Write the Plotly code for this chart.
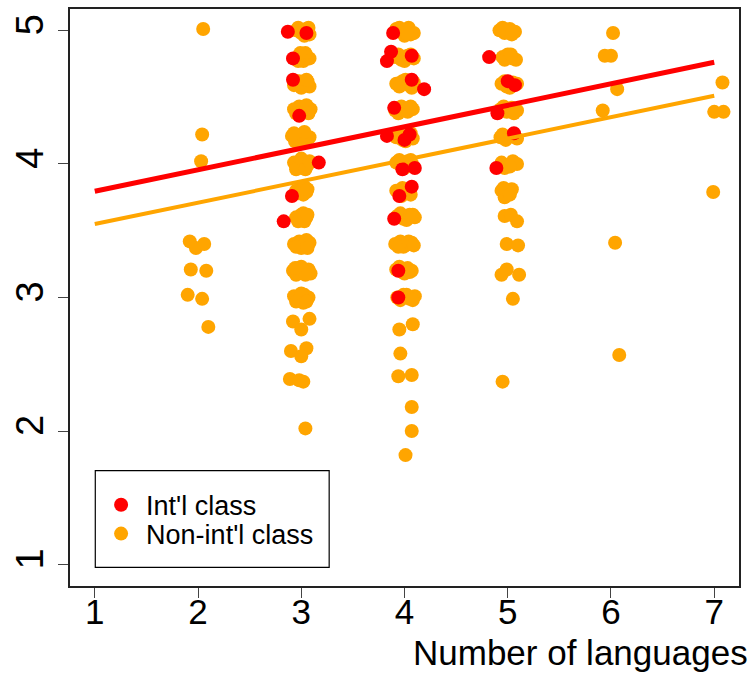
import plotly.graph_objects as go

# ---- data (x/y include the visual jitter) ----
nonintl_x = [
    2.05, 2.04, 2.03, 1.92, 1.98, 2.06, 1.93, 2.08, 1.90, 2.04, 2.10,
    # x = 3
    2.95, 3.00, 3.05, 3.08, 2.97, 3.03, 3.07,
    2.95, 3.00, 3.05, 3.08, 3.02, 2.97, 3.04, 2.99,
    2.93, 2.98, 3.03, 3.08, 3.06, 2.95, 3.00, 3.05,
    2.93, 2.98, 3.03, 3.09, 3.00, 2.95, 3.05, 3.07,
    2.91, 2.96, 3.01, 3.05, 3.08, 2.94, 2.99, 3.03, 2.93,
    2.93, 2.97, 3.02, 3.06, 2.95, 3.00, 3.04, 3.08,
    2.95, 3.00, 3.05, 3.02, 2.97, 3.03, 3.06,
    2.95, 3.00, 3.05, 3.03, 2.97, 3.02, 3.06,
    2.93, 2.98, 3.03, 3.08, 3.00, 2.95, 3.05, 3.06,
    2.92, 2.97, 3.02, 3.07, 3.09, 2.95, 3.00, 3.04, 2.94,
    2.93, 2.98, 3.03, 3.07, 3.02, 2.95, 3.00, 3.05,
    2.92, 3.08, 3.00,
    2.90, 3.05, 3.00,
    2.89, 3.02, 2.98,
    3.04,
    # x = 4
    3.92, 3.98, 4.04, 4.09, 4.00, 3.95, 4.06, 4.02,
    3.91, 3.97, 4.03, 4.09, 3.94, 4.00, 4.06,
    3.92, 3.98, 4.04, 4.09, 3.95, 4.01, 4.07,
    3.91, 3.97, 4.03, 4.08, 3.94, 4.00, 4.06,
    3.92, 3.98, 4.04, 4.08, 3.95, 4.01, 4.06,
    3.92, 3.97, 4.03, 4.08, 3.95, 4.00, 4.06,
    3.92, 3.98, 4.04, 4.06, 3.95, 4.01, 3.97,
    3.93, 3.99, 4.05, 4.10, 3.96, 4.02, 4.08,
    3.91, 3.96, 4.01, 4.07, 3.99, 3.94, 4.04, 4.09,
    3.92, 3.98, 4.03, 4.07, 3.95, 4.00, 4.05,
    3.93, 3.99, 4.05, 4.10, 3.96, 4.02, 4.08,
    3.95, 4.08, 3.96, 3.94, 4.07, 4.07, 4.07, 4.01,
    # x = 5
    4.92, 4.97, 5.02, 5.07, 4.95, 5.04,
    4.95, 5.00, 5.05, 5.08, 4.97, 5.03,
    4.94, 4.99, 5.05, 5.09, 4.97, 5.02,
    4.93, 4.99, 5.04, 5.09, 4.96, 5.06,
    4.93, 4.98, 5.03, 5.09, 4.95, 5.06,
    4.94, 5.00, 5.05, 5.09, 4.97, 5.02,
    4.94, 4.99, 5.04, 4.97, 4.96, 5.02,
    4.97, 5.09, 5.03,
    4.99, 5.10,
    4.94, 4.99, 5.11,
    5.05, 4.95,
    # x = 6, 7
    6.02, 5.94, 6.00, 6.06, 5.92, 6.04, 6.08,
    7.08, 7.00, 7.09, 6.99,
]
nonintl_y = [
    5.01, 4.22, 4.02, 3.42, 3.37, 3.40, 3.21, 3.20, 3.02, 2.99, 2.78,
    # x = 3
    5.00, 4.98, 5.01, 4.97, 5.02, 4.96, 5.02,
    4.79, 4.81, 4.80, 4.79, 4.77, 4.77, 4.83, 4.83,
    4.59, 4.62, 4.60, 4.58, 4.62, 4.62, 4.57, 4.63,
    4.41, 4.43, 4.40, 4.41, 4.38, 4.38, 4.44, 4.38,
    4.21, 4.19, 4.22, 4.18, 4.20, 4.17, 4.16, 4.24, 4.23,
    4.01, 3.98, 4.02, 3.99, 3.96, 4.04, 3.96, 4.02,
    3.80, 3.82, 3.79, 3.77, 3.78, 3.83, 3.81,
    3.60, 3.62, 3.60, 3.57, 3.57, 3.63, 3.62,
    3.40, 3.42, 3.39, 3.41, 3.37, 3.38, 3.43, 3.37,
    3.20, 3.22, 3.19, 3.21, 3.18, 3.17, 3.23, 3.17, 3.22,
    3.01, 2.98, 3.02, 3.00, 2.96, 2.97, 3.03, 2.97,
    2.82, 2.84, 2.76,
    2.60, 2.62, 2.56,
    2.39, 2.37, 2.38,
    2.02,
    # x = 4
    5.01, 4.99, 5.02, 4.98, 4.96, 5.02, 4.97, 4.98,
    4.80, 4.78, 4.81, 4.79, 4.82, 4.77, 4.82,
    4.60, 4.62, 4.59, 4.61, 4.58, 4.63, 4.57,
    4.40, 4.43, 4.39, 4.41, 4.38, 4.41, 4.43,
    4.20, 4.18, 4.21, 4.19, 4.22, 4.17, 4.23,
    4.01, 3.98, 4.02, 3.99, 4.03, 3.97, 4.03,
    3.80, 3.82, 3.79, 3.77, 3.78, 3.81, 3.76,
    3.61, 3.59, 3.62, 3.60, 3.63, 3.58, 3.62,
    3.40, 3.42, 3.39, 3.41, 3.38, 3.38, 3.42, 3.39,
    3.21, 3.19, 3.22, 3.20, 3.23, 3.18, 3.19,
    3.00, 3.02, 2.99, 3.01, 2.98, 3.02, 2.98,
    2.76, 2.80, 2.58, 2.41, 2.42, 2.18, 2.00, 1.82,
    # x = 5
    5.00, 4.98, 5.01, 4.99, 5.02, 4.97,
    4.80, 4.82, 4.79, 4.78, 4.78, 4.82,
    4.60, 4.58, 4.61, 4.60, 4.62, 4.57,
    4.41, 4.39, 4.42, 4.40, 4.43, 4.38,
    4.20, 4.18, 4.21, 4.19, 4.22, 4.22,
    4.01, 3.99, 4.02, 4.00, 3.97, 3.98,
    3.80, 3.78, 3.81, 3.75, 3.82, 3.77,
    3.61, 3.57, 3.62,
    3.40, 3.39,
    3.17, 3.21, 3.17,
    2.99, 2.37,
    # x = 6, 7
    4.98, 4.81, 4.81, 4.56, 4.40, 3.41, 2.57,
    4.61, 4.39, 4.39, 3.79,
]

intl_x = [
    2.87, 3.05, 2.92, 2.92, 2.98, 3.17, 2.91, 2.83,
    3.89, 3.87, 3.83, 4.07, 4.07, 4.19, 3.90, 3.83, 4.00, 4.05,
    3.98, 4.10, 4.07, 3.95, 3.90, 3.94, 3.94,
    4.82, 5.00, 5.07, 4.90, 5.06, 4.89,
]
intl_y = [
    4.99, 4.98, 4.79, 4.63, 4.36, 4.01, 3.76, 3.57,
    4.98, 4.84, 4.77, 4.81, 4.63, 4.56, 4.42, 4.21, 4.18, 4.22,
    3.96, 3.97, 3.83, 3.76, 3.59, 3.20, 3.00,
    4.80, 4.62, 4.59, 4.38, 4.23, 3.97,
]

# fitted regression lines: intercept, slope
intl_fit = (3.634, 0.161)
nonintl_fit = (3.390, 0.160)
fit_x = [1, 7]

x_ticks = [1, 2, 3, 4, 5, 6, 7]
y_ticks = [1, 2, 3, 4, 5]

RED = "#FF0000"
ORANGE = "#FFA500"
FONT = "Liberation Sans, Arial, sans-serif"

fig = go.Figure()
fig.add_trace(go.Scatter(
    x=nonintl_x, y=nonintl_y, mode="markers", name="Non-int'l class",
    marker=dict(color=ORANGE, size=14, line=dict(width=0)), legend="legend2",
))
fig.add_trace(go.Scatter(
    x=intl_x, y=intl_y, mode="markers", name="Int'l class",
    marker=dict(color=RED, size=14, line=dict(width=0)), legend="legend",
))
fig.add_trace(go.Scatter(
    x=fit_x, y=[nonintl_fit[0] + nonintl_fit[1] * v for v in fit_x],
    mode="lines", line=dict(color=ORANGE, width=4), showlegend=False,
))
fig.add_trace(go.Scatter(
    x=fit_x, y=[intl_fit[0] + intl_fit[1] * v for v in fit_x],
    mode="lines", line=dict(color=RED, width=5), showlegend=False,
))

axis_common = dict(
    showgrid=False, zeroline=False, showline=True, mirror=True,
    linecolor="#222222", linewidth=1.5,
    ticks="outside", ticklen=10, tickwidth=1.2, tickcolor="#444444",
)

legend_common = dict(
    xanchor="left", yanchor="top", itemwidth=40, itemsizing="trace",
    borderwidth=0, bgcolor="rgba(0,0,0,0)",
    font=dict(family=FONT, size=27, color="black"),
)

fig.update_layout(
    width=752, height=678,
    margin=dict(l=70, r=13, t=7, b=92),
    paper_bgcolor="white", plot_bgcolor="white",
    font=dict(family=FONT, color="black"),
    xaxis=dict(range=[0.76, 7.24], tickvals=x_ticks,
               ticktext=[str(v) for v in x_ticks], ticklabelstandoff=-16,
               tickfont=dict(family=FONT, size=35, color="black"), **axis_common),
    yaxis=dict(range=[0.84, 5.16], tickvals=y_ticks,
               ticktext=[str(v) for v in y_ticks], tickangle=-90,
               tickfont=dict(family=FONT, size=38, color="black"), **axis_common),
    legend=dict(x=0.039, y=0.1825, **legend_common),
    legend2=dict(x=0.039, y=0.1325, **legend_common),
    shapes=[dict(
        type="rect", xref="paper", yref="paper",
        x0=0.0378, x1=0.3874, y0=0.0323, y1=0.1999,
        line=dict(color="black", width=1.2), fillcolor="white", layer="above",
    )],
    annotations=[dict(
        text="Number of languages", xref="paper", yref="paper",
        x=1.016, y=-0.115, xanchor="right", yanchor="middle",
        showarrow=False, font=dict(family=FONT, size=35, color="black"),
    )],
)

fig.write_html("out.html")
